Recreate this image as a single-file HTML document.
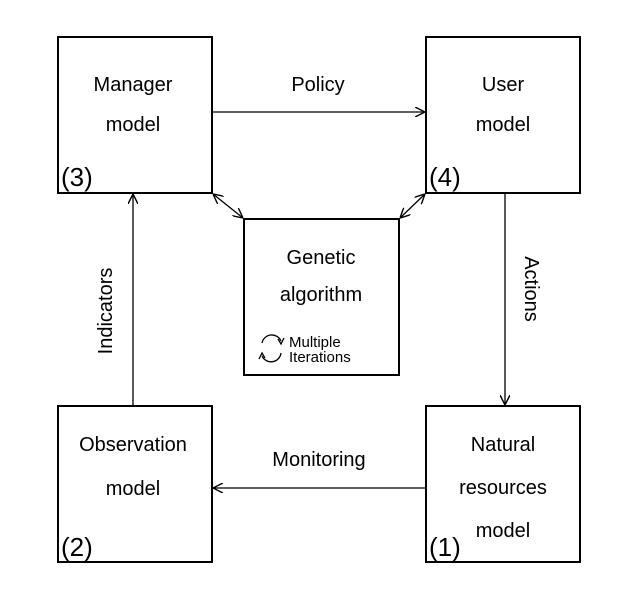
<!DOCTYPE html>
<html><head><style>body{margin:0;background:#fff}svg{display:block}text{font-family:"Liberation Sans",sans-serif;fill:#000}</style></head><body>
<svg width="643" height="591" viewBox="0 0 643 591" xmlns="http://www.w3.org/2000/svg">
<defs><marker id="a" viewBox="0 0 10 10" refX="10" refY="5" markerWidth="10" markerHeight="10" orient="auto-start-reverse" markerUnits="userSpaceOnUse"><path d="M0,0 L10,5 L0,10" fill="none" stroke="#000" stroke-width="1.4"/></marker></defs>
<g fill="none" stroke="#000" stroke-width="2">
<rect x="58" y="37" width="154" height="156"/>
<rect x="426" y="37" width="154" height="156"/>
<rect x="244" y="219" width="155" height="156"/>
<rect x="58" y="406" width="154" height="156"/>
<rect x="426" y="406" width="154" height="156"/>
</g>
<g stroke="#000" stroke-width="1.3" fill="none">
<line x1="213" y1="112" x2="425" y2="112" marker-end="url(#a)"/>
<line x1="505" y1="194" x2="505" y2="405" marker-end="url(#a)"/>
<line x1="425" y1="488" x2="213" y2="488" marker-end="url(#a)"/>
<line x1="133" y1="405" x2="133" y2="194" marker-end="url(#a)"/>
<line x1="213" y1="194" x2="243" y2="218" marker-start="url(#a)" marker-end="url(#a)"/>
<line x1="425" y1="194" x2="400" y2="218" marker-start="url(#a)" marker-end="url(#a)"/>
<path d="M262,343 A10,10 0 0 1 281,341"/><path d="M278,339 L281,344 L284,338"/>
<path d="M281,353 A10,10 0 0 1 262,356"/><path d="M265,358 L262,353 L259,359"/>
</g>
<g font-size="20" text-anchor="middle">
<text x="133" y="91">Manager</text><text x="133" y="131">model</text>
<text x="503" y="91">User</text><text x="503" y="131">model</text>
<text x="321" y="264">Genetic</text><text x="321" y="301">algorithm</text>
<text x="133" y="451">Observation</text><text x="133" y="495">model</text>
<text x="503" y="451">Natural</text><text x="503" y="494">resources</text><text x="503" y="537">model</text>
<text x="318" y="91">Policy</text>
<text x="319" y="466">Monitoring</text>
<text transform="translate(112,311) rotate(-90)">Indicators</text>
<text transform="translate(525,289) rotate(90)">Actions</text>
</g>
<g font-size="26">
<text x="61" y="186">(3)</text><text x="429" y="186">(4)</text>
<text x="61" y="556">(2)</text><text x="429" y="556">(1)</text>
</g>
<g font-size="15"><text x="289" y="347">Multiple</text><text x="289" y="362">Iterations</text></g>
</svg>
</body></html>
